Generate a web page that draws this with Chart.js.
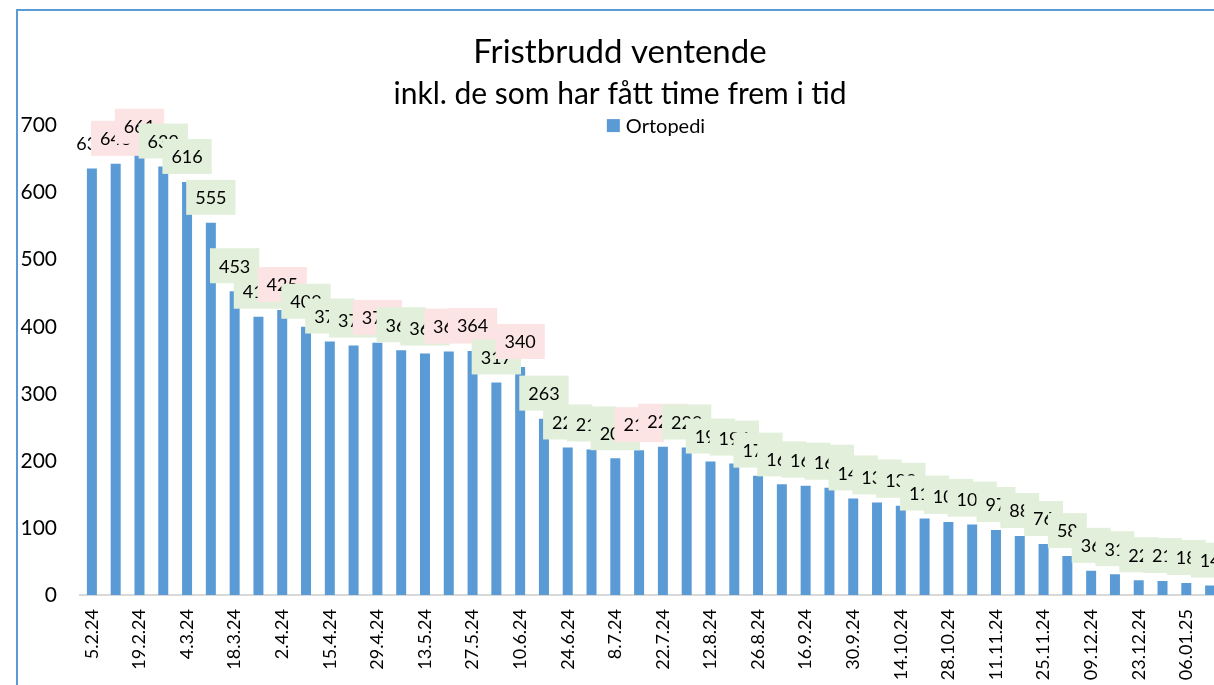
<!DOCTYPE html>
<html>
<head>
<meta charset="utf-8">
<script src="https://cdn.jsdelivr.net/npm/chart.js@4.4.1/dist/chart.umd.min.js"></script>
<style>
  html, body { margin: 0; padding: 0; background: #fff; overflow: hidden; width: 1214px; height: 685px; }
  #frame { position: absolute; left: 16px; top: 9px; width: 1208px; height: 700px; border: 2px solid #5b9bd5; }
  canvas { display: block; }
</style>
</head>
<body>
<div id="frame"><canvas id="fristbrudd" width="1208" height="679"></canvas></div>
<script>
// week labels (only every other one is shown on the axis)
const weeks = [
  "5.2.24", "12.2.24", "19.2.24", "26.2.24", "4.3.24", "11.3.24", "18.3.24", "25.3.24",
  "2.4.24", "8.4.24", "15.4.24", "22.4.24", "29.4.24", "6.5.24", "13.5.24", "21.5.24",
  "27.5.24", "3.6.24", "10.6.24", "17.6.24", "24.6.24", "1.7.24", "8.7.24", "15.7.24",
  "22.7.24", "5.8.24", "12.8.24", "19.8.24", "26.8.24", "9.9.24", "16.9.24", "23.9.24",
  "30.9.24", "7.10.24", "14.10.24", "21.10.24", "28.10.24", "04.11.24", "11.11.24", "18.11.24",
  "25.11.24", "02.12.24", "09.12.24", "16.12.24", "23.12.24", "30.12.24", "06.01.25", "13.01.25"
];

// ventende pasienter, ortopedi
const ortopedi = [
  636, 643, 661, 639, 616, 555, 453, 415,
  425, 400, 378, 372, 376, 365, 360, 363,
  364, 317, 340, 263, 220, 217, 204, 216,
  221, 220, 199, 196, 178, 165, 163, 160,
  144, 138, 133, 114, 109, 105, 97, 88,
  76, 58, 36, 31, 22, 21, 18, 14
];

const yTicks = [0, 100, 200, 300, 400, 500, 600, 700];

const barColor = "#5b9bd5";
const upFill = "#fde4e4";   // more waiting than the week before
const downFill = "#e2efda"; // fewer waiting

// value labels with coloured boxes above each bar
const valueLabels = {
  id: "valueLabels",
  afterDatasetsDraw(chart) {
    const ctx = chart.ctx;
    const meta = chart.getDatasetMeta(0);
    ctx.save();
    ctx.font = "18px Lato";
    ctx.textAlign = "center";
    ctx.textBaseline = "middle";
    meta.data.forEach((bar, i) => {
      const value = ortopedi[i];
      const text = String(value);
      const w = ctx.measureText(text).width + 18;
      const h = 35;
      const bottom = bar.y - 8;
      let fill = null;
      if (i > 0 && value > ortopedi[i - 1]) fill = upFill;
      if (i > 0 && value < ortopedi[i - 1]) fill = downFill;
      if (fill) {
        ctx.fillStyle = fill;
        ctx.fillRect(bar.x - w / 2, bottom - h, w, h);
      }
      ctx.fillStyle = "#000";
      ctx.fillText(text, bar.x, bottom - h / 2 + 1);
    });
    ctx.restore();
  },
};

// legend sits on the top edge of the plot, like in the excel chart
const topLegend = {
  id: "topLegend",
  afterDraw(chart) {
    const ctx = chart.ctx;
    const ds = chart.data.datasets[0];
    const area = chart.chartArea;
    ctx.save();
    ctx.font = "20px Lato";
    const box = 13;
    const gap = 6;
    const total = box + gap + ctx.measureText(ds.label).width;
    const x0 = (area.left + area.right) / 2 + 5 - total / 2;
    const cy = area.top;
    ctx.fillStyle = ds.backgroundColor;
    ctx.fillRect(x0, cy - box / 2, box, box);
    ctx.fillStyle = "#000";
    ctx.textAlign = "left";
    ctx.textBaseline = "middle";
    ctx.fillText(ds.label, x0 + box + gap, cy + 1);
    ctx.restore();
  },
};

const ctx = document.getElementById("fristbrudd");

new Chart(ctx, {
  type: "bar",
  data: {
    labels: weeks,
    datasets: [
      {
        label: "Ortopedi",
        data: ortopedi,
        backgroundColor: barColor,
        barPercentage: 0.42,
        categoryPercentage: 1,
      },
    ],
  },
  options: {
    responsive: false,
    animation: false,
    devicePixelRatio: 1,
    layout: { padding: { left: 0, right: 4, top: 0, bottom: 0 } },
    plugins: {
      title: {
        display: true,
        text: "Fristbrudd ventende",
        color: "#000",
        font: { family: "Lato", size: 33, weight: "normal" },
        padding: { top: 22, bottom: 0 },
      },
      subtitle: {
        display: true,
        text: "inkl. de som har fått time frem i tid",
        color: "#000",
        font: { family: "Lato", size: 30, weight: "normal" },
        padding: { top: 4, bottom: 13 },
      },
      legend: { display: false },
      tooltip: { enabled: false },
    },
    scales: {
      x: {
        grid: { display: false, drawTicks: false },
        border: { color: "#d9d9d9", width: 2 },
        ticks: {
          autoSkip: false,
          maxRotation: 90,
          minRotation: 90,
          padding: 14,
          color: "#000",
          font: { family: "Lato", size: 18 },
          callback: (value, index) => (index % 2 === 0 ? weeks[index] : ""),
        },
        afterFit(scale) {
          scale.height = 95;
          scale.paddingLeft = 0;
          scale.paddingRight = 0;
        },
      },
      y: {
        min: yTicks[0],
        max: yTicks[yTicks.length - 1],
        grid: { display: false, drawTicks: false },
        border: { display: false },
        ticks: {
          stepSize: yTicks[1] - yTicks[0],
          padding: 23,
          color: "#000",
          font: { family: "Lato", size: 21 },
        },
        afterFit(scale) {
          scale.width = 62;
        },
      },
    },
  },
  plugins: [valueLabels, topLegend],
});
</script>
</body>
</html>
